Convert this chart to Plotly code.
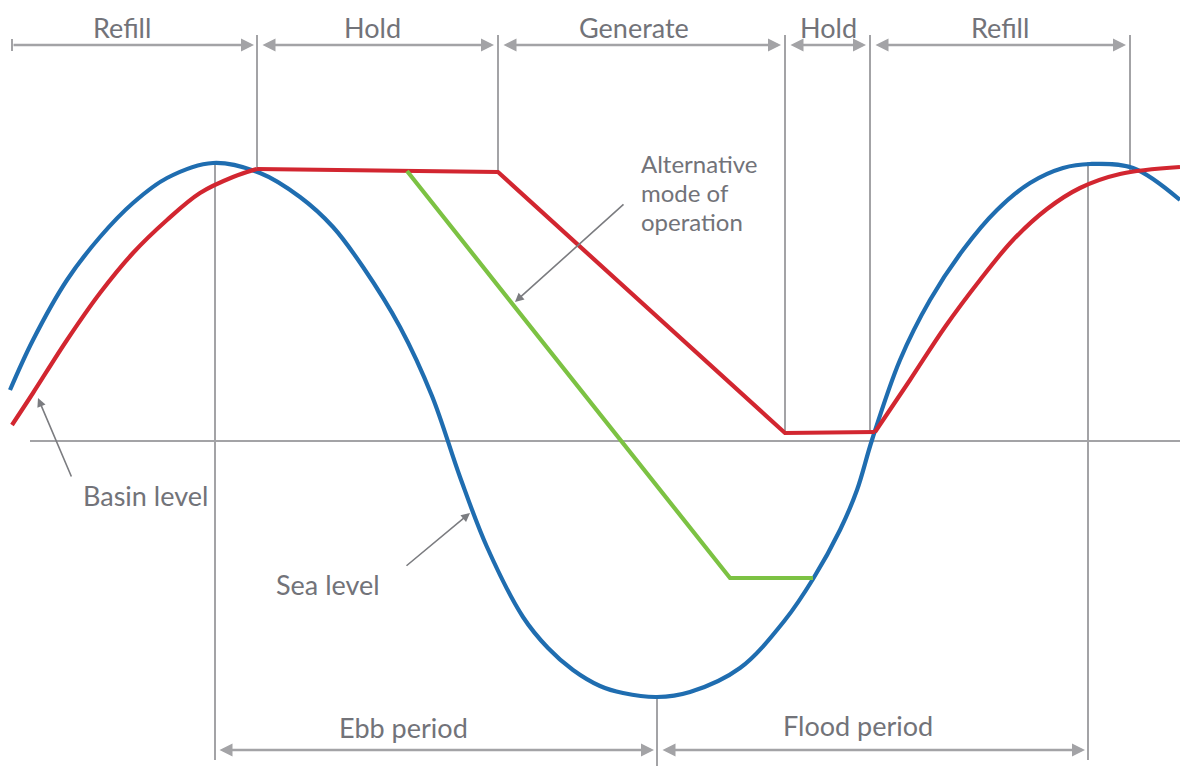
import plotly.graph_objects as go

# Tidal cycle (x: time units, values read as image rows, converted to level below)
sea_x = [10, 33, 67, 100, 133, 167, 213, 260, 300, 333, 363, 400, 432, 460, 487, 523,
         548, 573, 600, 623, 657, 690, 740, 785, 813, 840, 857, 872,
         900, 930, 963, 997, 1030, 1063, 1090, 1133, 1180]
sea_py = [390, 340, 280, 237, 203, 178, 163, 173, 197, 227, 267, 327, 396, 477, 547, 617,
          648, 670, 686, 693, 697, 692, 668, 620, 579, 530, 490, 440,
          360, 300, 250, 210, 183, 168, 164, 168, 200]

basin_refill1_x = [12, 33, 67, 100, 133, 167, 200, 233, 257]
basin_refill1_py = [425, 393, 340, 293, 253, 220, 193, 177, 169]
basin_hold_gen_x = [257, 498, 785, 875]
basin_hold_gen_py = [169, 172, 433, 432]
basin_refill2_x = [875, 910, 945, 980, 1013, 1047, 1080, 1120, 1180]
basin_refill2_py = [432, 380, 327, 280, 240, 209, 188, 174, 167]

alt_x = [407, 730, 813]
alt_py = [171, 578, 578]

MEAN_LINE = 441  # image row of the mean water line
sea_y = [MEAN_LINE - v for v in sea_py]
basin_refill1_y = [MEAN_LINE - v for v in basin_refill1_py]
basin_hold_gen_y = [MEAN_LINE - v for v in basin_hold_gen_py]
basin_refill2_y = [MEAN_LINE - v for v in basin_refill2_py]
alt_y = [MEAN_LINE - v for v in alt_py]

phase_labels = ["Refill", "Hold", "Generate", "Hold", "Refill"]
phase_bounds = [12, 257, 498, 785, 870, 1130]
period_labels = ["Ebb period", "Flood period"]
period_bounds = [215, 657, 1088]

BLUE = "#1f6db0"
RED = "#d22630"
GREEN = "#7cc243"
GRAY = "#a3a3a6"
DARK = "#7b7c80"
TXT = "#727379"
FONT = "Lato"
FS = 27

fig = go.Figure()

def curve(x, y, color, shape):
    fig.add_trace(go.Scatter(x=x, y=y, mode="lines", showlegend=False, hoverinfo="skip",
                             line=dict(color=color, width=4.2, shape=shape, smoothing=1.0)))

shapes = []
def vline(x, y0, y1, w=2):
    shapes.append(dict(type="line", xref="x", yref="y", x0=x, x1=x, y0=y0, y1=y1,
                       line=dict(color=GRAY, width=w), layer="below"))

# baseline
shapes.append(dict(type="line", xref="x", yref="y", x0=30, x1=1180, y0=0, y1=0,
                   line=dict(color=GRAY, width=2), layer="below"))
# top phase boundaries
vline(257, 406, 272)
vline(498, 406, 269)
vline(785, 406, 8)
vline(870, 406, 9)
vline(1130, 406, 271)
vline(12, 402, 390, w=2)
# bottom period boundaries
vline(215, 279, -319)
vline(657, -256, -325)
vline(1088, 279, -319)

curve(sea_x, sea_y, BLUE, "spline")
curve(basin_refill1_x, basin_refill1_y, RED, "spline")
curve(basin_hold_gen_x, basin_hold_gen_y, RED, "linear")
curve(basin_refill2_x, basin_refill2_y, RED, "spline")
curve(alt_x, alt_y, GREEN, "linear")

ann = []
def dim_arrow(x0, x1, y, both=True):
    ann.append(dict(x=x1, y=y, ax=x0, ay=y, xref="x", yref="y", axref="x", ayref="y",
                    text="", showarrow=True, arrowhead=2, startarrowhead=2,
                    arrowside="end+start" if both else "end",
                    arrowsize=1.0, startarrowsize=1.0, arrowwidth=2.6, arrowcolor=GRAY))

def label(x, y, text, size=FS, xanchor="center"):
    ann.append(dict(x=x, y=y, xref="x", yref="y", text=text, showarrow=False,
                    xanchor=xanchor, yanchor="middle", align="left",
                    font=dict(family=FONT, size=size, color=TXT)))

top_y = 396
for i, lab in enumerate(phase_labels):
    a, b = phase_bounds[i], phase_bounds[i + 1]
    if i == 0:
        dim_arrow(a, b - 3, top_y, both=False)
    else:
        dim_arrow(a + 4, b - 4, top_y)
label(122, 414, phase_labels[0])
label(372, 414, phase_labels[1])
label(634, 414, phase_labels[2])
label(828, 414, phase_labels[3])
label(1000, 414, phase_labels[4])

bot_y = -309
dim_arrow(period_bounds[0] + 3, period_bounds[1] - 3, bot_y)
dim_arrow(period_bounds[1] + 4, period_bounds[2] - 3, bot_y)
label(403, -286, period_labels[0])
label(858, -284, period_labels[1])

label(145, -54, "Basin level")
label(328, -143, "Sea level")
label(639, 278, "Alternative", size=24, xanchor="left")
label(639, 249, "mode of", size=24, xanchor="left")
label(639, 220, "operation", size=24, xanchor="left")

def pointer(x0, y0, x1, y1):
    ann.append(dict(x=x1, y=y1, ax=x0, ay=y0, xref="x", yref="y", axref="x", ayref="y",
                    text="", showarrow=True, arrowhead=2, arrowsize=1.1, arrowwidth=1.6,
                    arrowcolor=DARK))

pointer(72, -37, 38, 43)
pointer(405, -126, 470, -72)
pointer(625, 238, 515, 139)

fig.update_layout(
    width=1180, height=766,
    margin=dict(l=0, r=0, t=0, b=0),
    paper_bgcolor="white", plot_bgcolor="white",
    xaxis=dict(range=[0, 1180], visible=False, fixedrange=True),
    yaxis=dict(range=[-325, 441], visible=False, fixedrange=True),
    shapes=shapes, annotations=ann,
)

fig.write_html("out.html", config={"displayModeBar": False},
               post_script="document.body.style.margin='0px';document.body.style.overflow='hidden';")
